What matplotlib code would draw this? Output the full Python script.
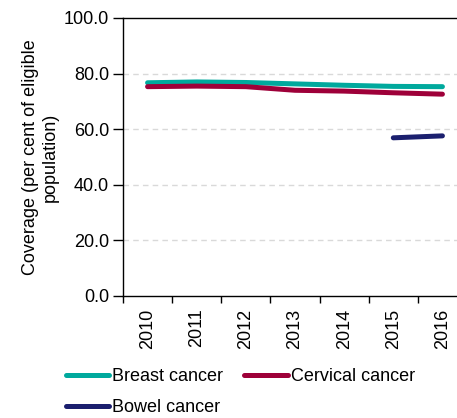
import matplotlib
matplotlib.use("Agg")
import matplotlib.pyplot as plt
from matplotlib.ticker import FixedLocator

plt.rcParams['font.family'] = ['Liberation Sans', 'DejaVu Sans']

years = ['2010', '2011', '2012', '2013', '2014', '2015', '2016']
breast = [76.7, 77.0, 76.8, 76.3, 75.8, 75.4, 75.3]
cervical = [75.3, 75.5, 75.3, 74.0, 73.7, 73.1, 72.6]
bowel_years = ['2015', '2016']
bowel = [56.9, 57.6]
yticks = [0, 20, 40, 60, 80, 100]

c_breast = '#00A99D'
c_cerv = '#9E0039'
c_bowel = '#1B1F6E'

fig = plt.figure(figsize=(4.57, 4.18), dpi=100)
ax = fig.add_axes([123/457, 1-296/418, 344/457, 278/418])

xi = list(range(len(years)))
bx = [years.index(y) for y in bowel_years]
lb, = ax.plot(xi, breast, color=c_breast, lw=3.6, solid_capstyle='round', label='Breast cancer', zorder=3)
lc, = ax.plot(xi, cervical, color=c_cerv, lw=3.6, solid_capstyle='round', label='Cervical cancer', zorder=3)
lw_, = ax.plot(bx, bowel, color=c_bowel, lw=3.6, solid_capstyle='round', label='Bowel cancer', zorder=3)

ax.set_xlim(-0.5, len(years) - 0.5)
ax.set_ylim(0, 100)
ax.set_yticks(yticks)
ax.set_yticklabels([f'{v:.1f}' for v in yticks], fontsize=13)
ax.xaxis.set_major_locator(FixedLocator([i - 0.5 for i in range(len(years) + 1)]))
ax.xaxis.set_minor_locator(FixedLocator(xi))
ax.set_xticklabels([])
ax.set_xticklabels(years, minor=True, rotation=90, fontsize=13)
ax.tick_params(axis='x', which='major', length=5, width=1, direction='out')
ax.tick_params(axis='x', which='minor', length=0, pad=9)
ax.tick_params(axis='y', length=7, width=1, pad=3)

for v in yticks[1:-1]:
    ax.axhline(v, color='#D9D9D9', lw=1, ls=(0, (4, 3)), zorder=1)

ax.spines['right'].set_visible(False)
for s in ['left', 'bottom', 'top']:
    ax.spines[s].set_linewidth(1)
    ax.spines[s].set_color('black')

ax.set_ylabel('Coverage (per cent of eligible\npopulation)', fontsize=13, labelpad=4)

fig.legend([lb, lw_, lc], ['Breast cancer', 'Bowel cancer', 'Cervical cancer'],
           ncol=2, loc='upper left', bbox_to_anchor=(66/457, 1-368/418),
           frameon=False, fontsize=13, handlelength=2.4, handletextpad=0.17,
           columnspacing=1.15, labelspacing=0.8, borderpad=0, borderaxespad=0)

fig.savefig('out.png', dpi=100)
